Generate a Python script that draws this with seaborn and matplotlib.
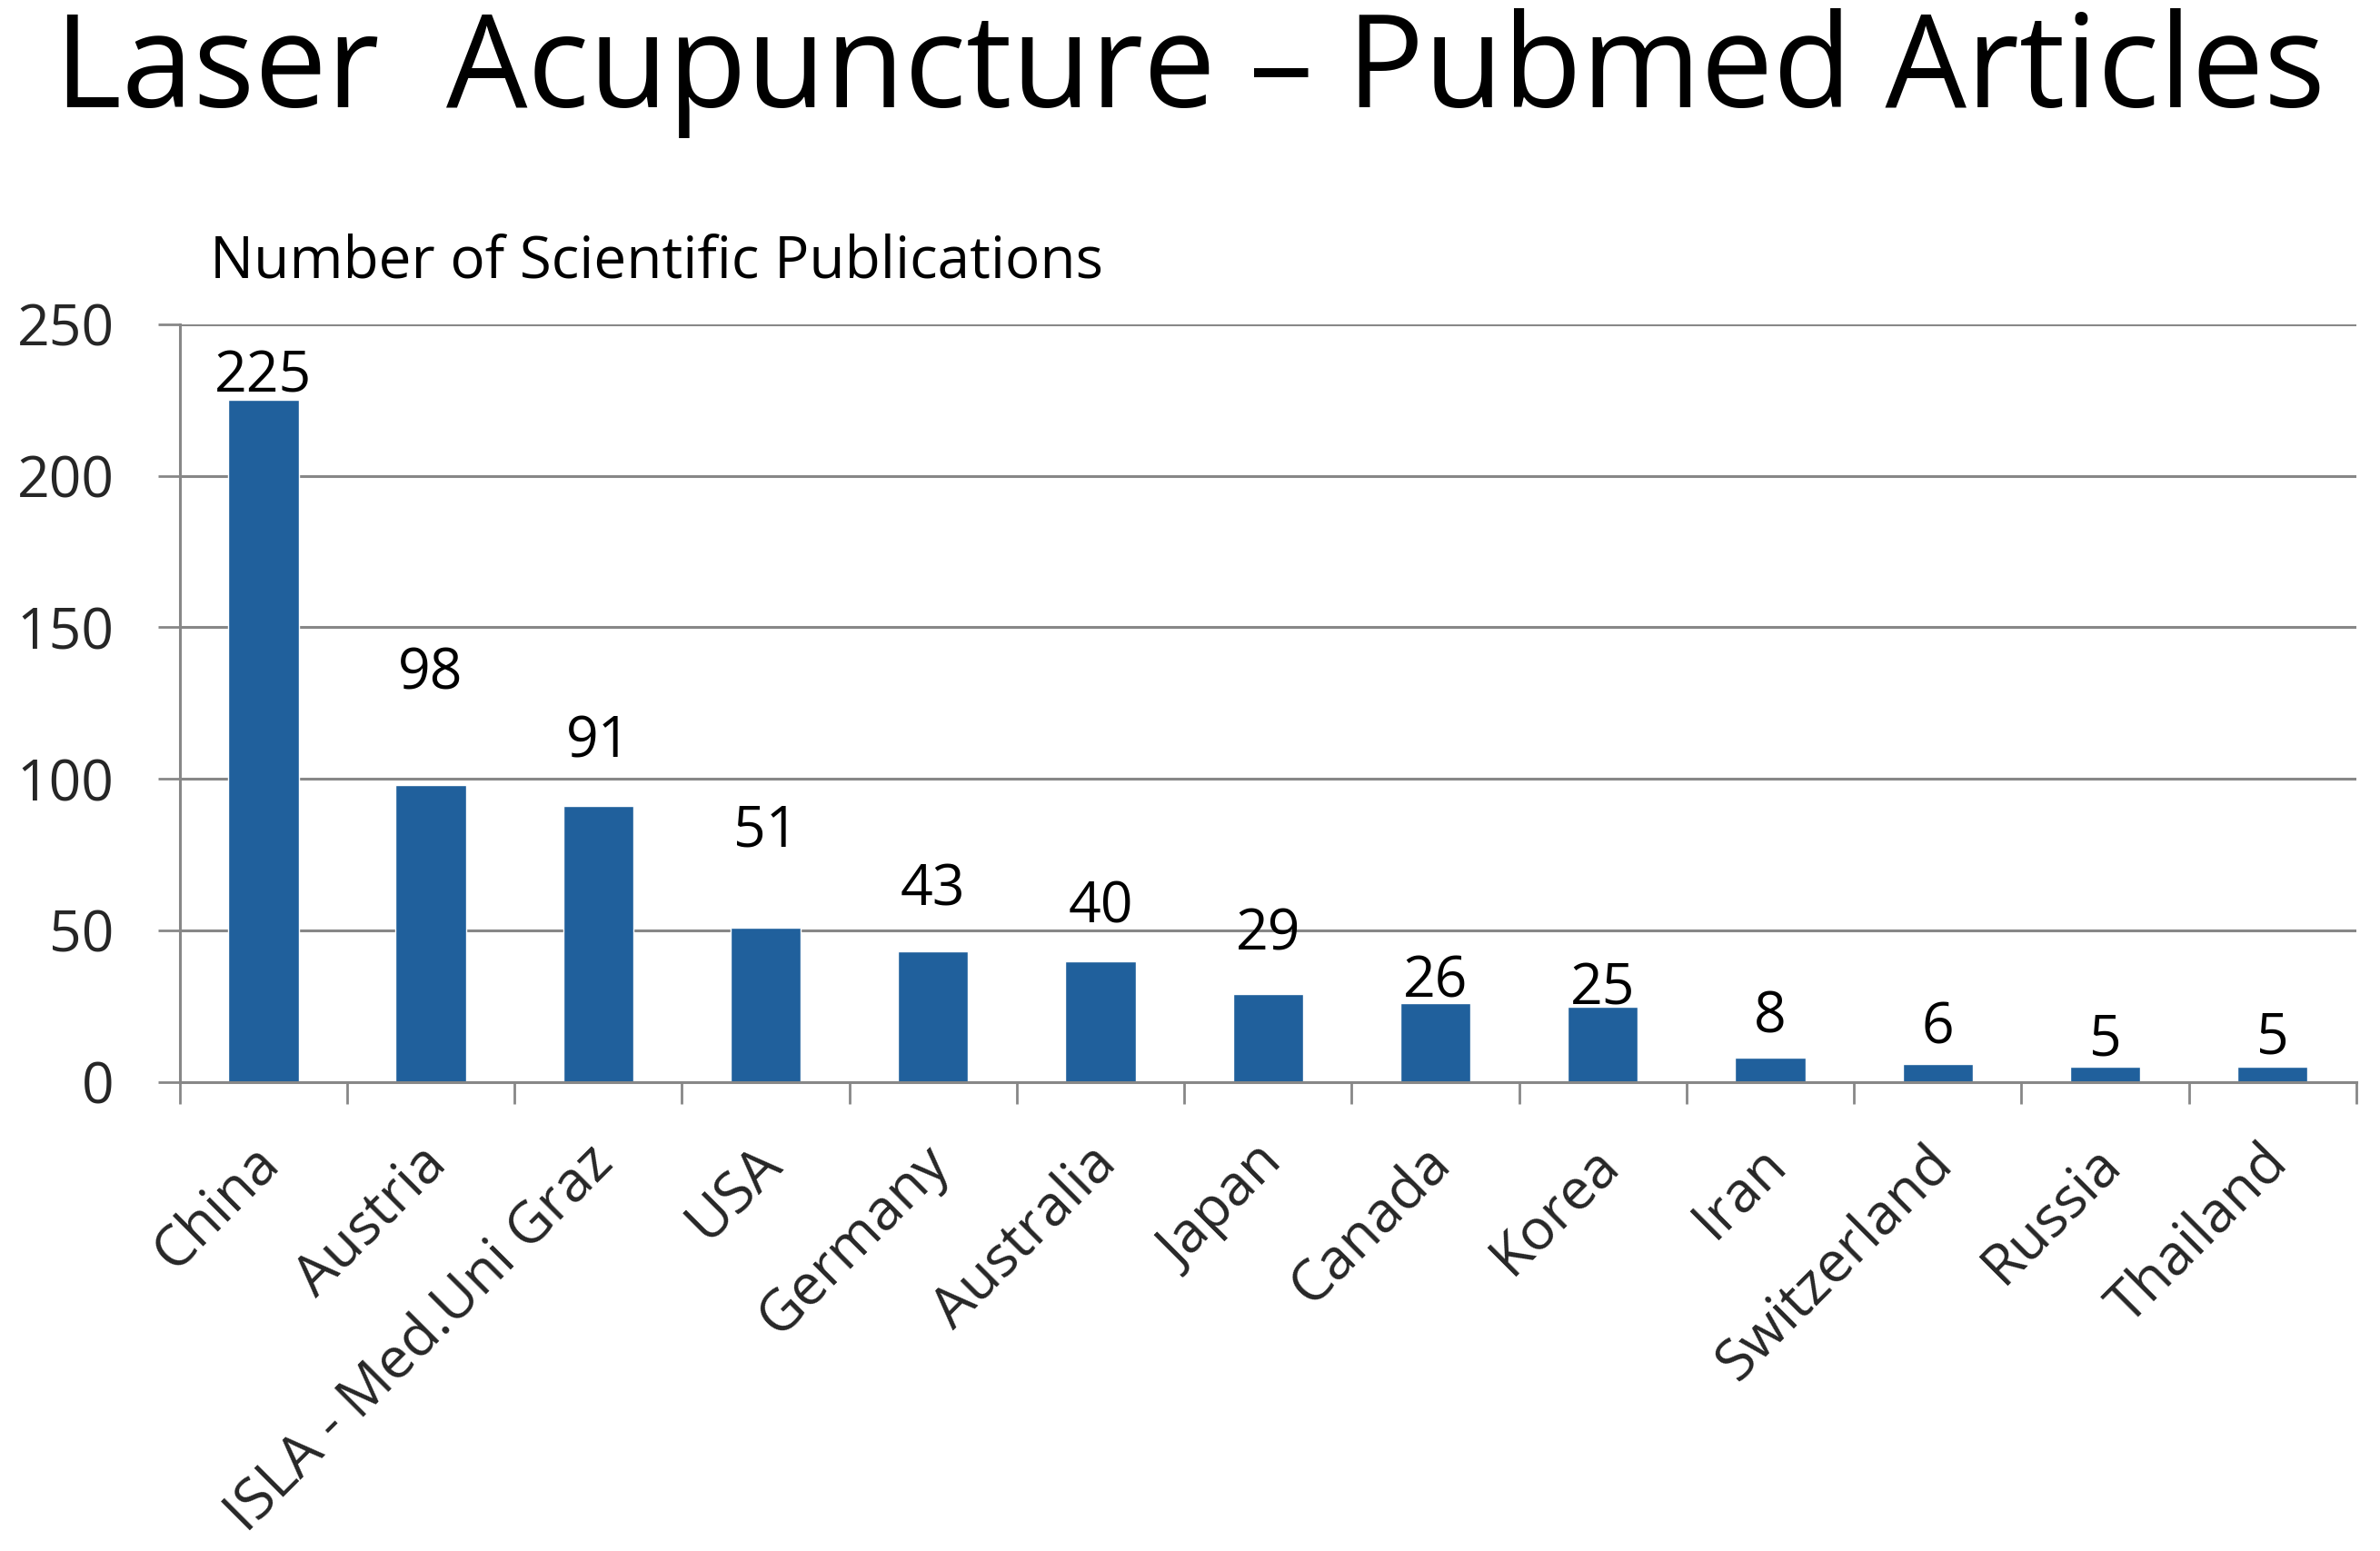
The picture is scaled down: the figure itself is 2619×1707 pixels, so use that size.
import matplotlib
matplotlib.use("Agg")
import matplotlib.pyplot as plt
import matplotlib.transforms as mtransforms
from matplotlib.ticker import FixedLocator
import seaborn as sns
import pandas as pd

# data
countries = ["China", "Austria", "ISLA - Med.Uni Graz", "USA", "Germany", "Australia",
             "Japan", "Canada", "Korea", "Iran", "Switzerland", "Russia", "Thailand"]
counts = [225, 98, 91, 51, 43, 40, 29, 26, 25, 8, 6, 5, 5]
y_ticks = [0, 50, 100, 150, 200, 250]

title = "Laser  Acupuncture \u2013 Pubmed Articles"
y_label = "Number of Scientific Publications"

# how far (points) each value label sits above its bar in the original slide
label_lift = [6, 76, 39, 64, 37, 30, 35, 5, 1.5, 20, 16, 9, 11]

bar_color = "#20609c"
grid_color = "#878787"

sns.set_theme(style="white")
plt.rcParams["font.family"] = ["Open Sans", "DejaVu Sans"]

fig = plt.figure(figsize=(26.19, 17.07), dpi=100)
ax = fig.add_axes([0.0755, 0.3023, 0.9145, 0.4887])

df = pd.DataFrame({"country": countries, "count": counts})
sns.barplot(data=df, x="country", y="count", color=bar_color, saturation=1,
            width=0.42, ax=ax)

ax.set_xlim(-0.5, len(countries) - 0.5)
ax.set_ylim(0, 250)
ax.set_yticks(y_ticks)
ax.set_xlabel("")
ax.set_ylabel("")

ax.yaxis.grid(True, color=grid_color, lw=2.2)
ax.set_axisbelow(True)
for side in ["top", "right"]:
    ax.spines[side].set_visible(False)
for side in ["left", "bottom"]:
    ax.spines[side].set_color(grid_color)
    ax.spines[side].set_linewidth(2.2)

# category separators as minor ticks, labels on hidden major ticks
ax.xaxis.set_minor_locator(FixedLocator([i - 0.5 for i in range(len(countries) + 1)]))
ax.tick_params(axis="x", which="minor", bottom=True, length=17, width=2,
               color=grid_color, direction="out")
ax.tick_params(axis="x", which="major", length=0, pad=42, labelsize=45)
ax.tick_params(axis="y", left=True, length=17, width=2, color=grid_color,
               direction="out", pad=35, labelsize=45)

shift = mtransforms.ScaledTranslation(-14 / 100, 0, fig.dpi_scale_trans)
for lab in ax.get_xticklabels():
    lab.set_rotation(45)
    lab.set_ha("right")
    lab.set_va("top")
    lab.set_rotation_mode("anchor")
    lab.set_transform(lab.get_transform() + shift)

for i, (v, lift) in enumerate(zip(counts, label_lift)):
    ax.annotate(str(v), (i, v), xytext=(0, lift), textcoords="offset points",
                ha="center", va="baseline", fontsize=45, color="black")

fig.text(0.500, 0.931, title, ha="center", va="baseline", fontsize=102, color="black")
fig.text(0.0883, 0.821, y_label, ha="left", va="baseline", fontsize=46, color="black")

fig.savefig("out.png", dpi=100)
